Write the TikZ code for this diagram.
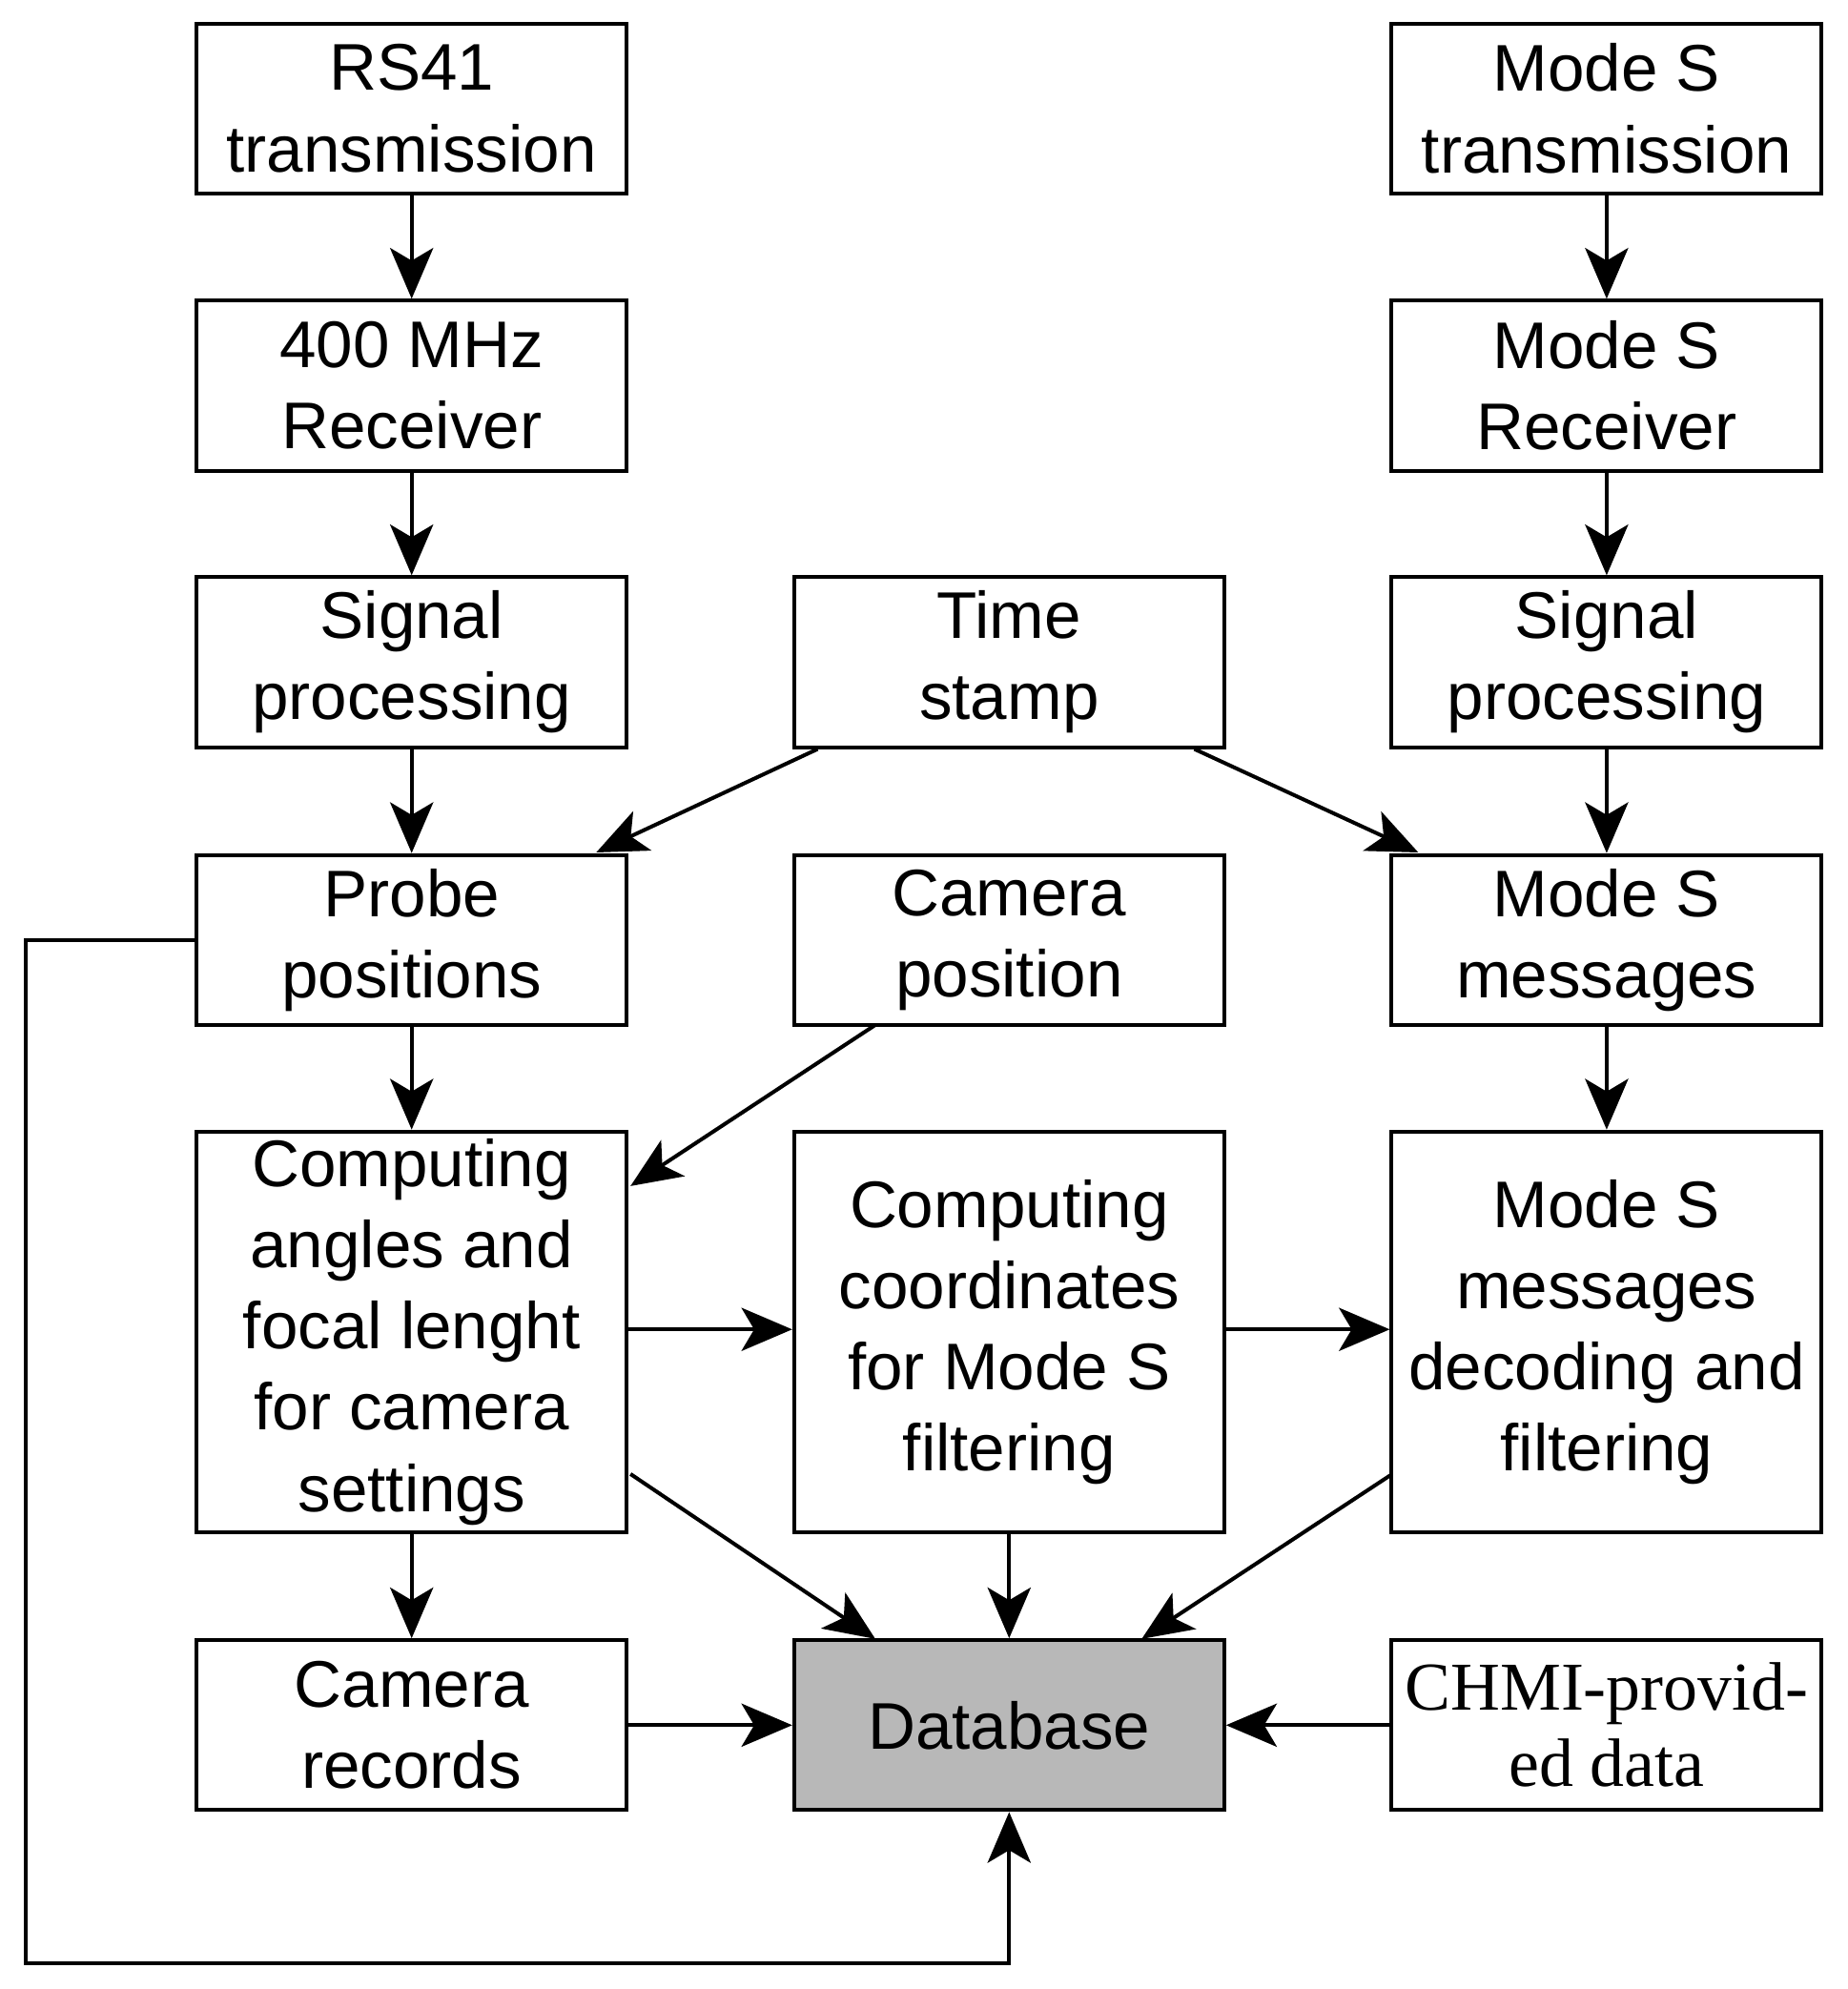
\documentclass[tikz,border=0pt]{standalone}
\usepackage{fontspec}
\setmainfont{Liberation Sans}
\newfontfamily\serifx{Liberation Serif}
\usetikzlibrary{arrows.meta}
\begin{document}
\begin{tikzpicture}[x=0.5pt,y=-0.5pt,
 box/.style={draw,line width=1.5pt,minimum width=169.5pt,minimum height=67pt,align=center,font=\fontsize{26}{32}\selectfont,inner sep=0pt},
 tall/.style={box,minimum height=158pt},
 arr/.style={line width=1.5pt,-{Stealth[length=20pt,width=17pt,inset=5pt]}}]
\useasboundingbox (0,0) rectangle (1456,1568);
\node[box] (a1) at (324.5,85.5) {RS41\\transmission};
\node[box] (a2) at (324.5,304) {400 MHz\\Receiver};
\node[box] (a3) at (324.5,522) {Signal\\processing};
\node[box] (a4) at (324.5,741) {Probe\\positions};
\node[tall] (a5) at (324.5,1050) {Computing\\angles and\\focal lenght\\for camera\\settings};
\node[box] (a6) at (324.5,1360) {Camera\\records};
\node[box] (b3) at (795.5,522) {Time\\stamp};
\node[box] (b4) at (795.5,741) {Camera\\position};
\node[tall] (b5) at (795.5,1050) {Computing\\coordinates\\for Mode S\\filtering};
\node[box,fill=black!28] (db) at (795.5,1360) {Database};
\node[box] (c1) at (1266.5,85.5) {Mode S\\transmission};
\node[box] (c2) at (1266.5,304) {Mode S\\Receiver};
\node[box] (c3) at (1266.5,522) {Signal\\processing};
\node[box] (c4) at (1266.5,741) {Mode S\\messages};
\node[tall] (c5) at (1266.5,1050) {Mode S\\messages\\decoding and\\filtering};
\node[box,font=\serifx\fontsize{27}{30}\selectfont] (c6) at (1266.5,1360) {CHMI-provid-\\ed data};
\foreach \u/\v in {a1/a2,a2/a3,a3/a4,a4/a5,a5/a6,c1/c2,c2/c3,c3/c4,c4/c5,b5/db}
  \draw[arr] (\u) -- (\v);
\draw[arr] (b3.south west)++(20,0) -- (470,672);
\draw[arr] (b3.south east)++(-25,0) -- (1118,672);
\draw[arr] (690,808) -- (497,935);
\draw[arr] (a5.east |- 0,1048) -- (b5.west |- 0,1048);
\draw[arr] (b5.east |- 0,1048) -- (c5.west |- 0,1048);
\draw[arr] (497,1162) -- (690,1292);
\draw[arr] (1096,1163) -- (900,1292);
\draw[arr] (a6) -- (db);
\draw[arr] (c6) -- (db);
\coordinate (p1) at (20,741);
\coordinate (p2) at (20,1548);
\coordinate (p3) at (795.5,1548);
\draw[arr] (a4.west) -- (p1) -- (p2) -- (p3) -- (db.south);
\end{tikzpicture}
\end{document}
